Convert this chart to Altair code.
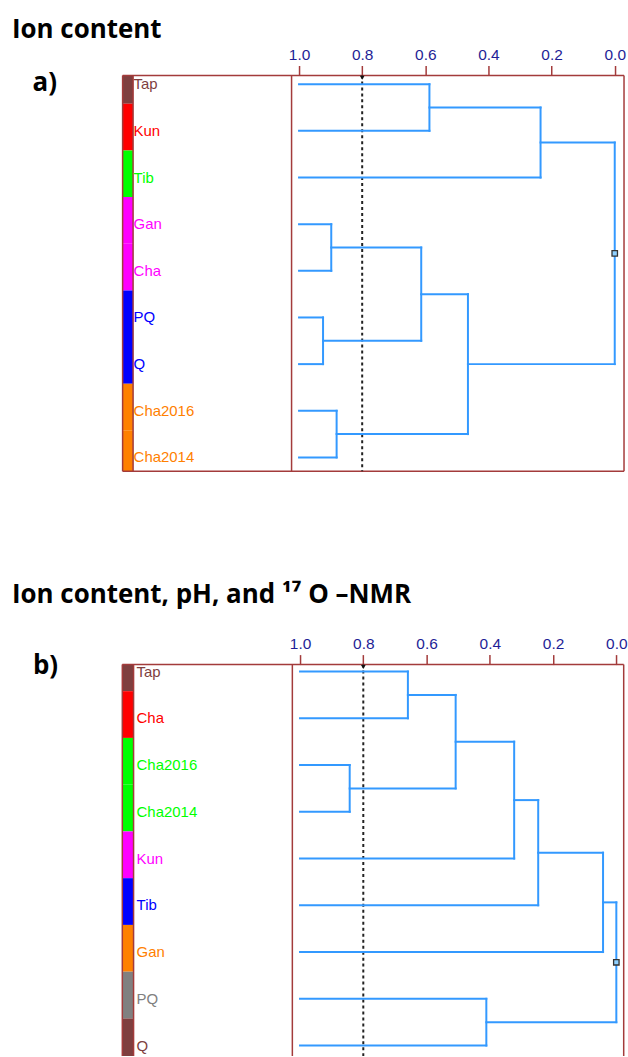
import altair as alt
import pandas as pd

# ---------------- data: panel a (Ion content) ----------------
leaves_a = ["Tap", "Kun", "Tib", "Gan", "Cha", "PQ", "Q", "Cha2016", "Cha2014"]
colors_a = ["#7f3f3f", "#ff0000", "#00ff00", "#ff00ff", "#ff00ff",
            "#0000ff", "#0000ff", "#ff8000", "#ff8000"]
# merges C1..C8 : left child, right child, similarity level
merge_left_a = ["Tap", "C1", "Gan", "PQ", "C3", "Cha2016", "C5", "C2"]
merge_right_a = ["Kun", "Tib", "Cha", "Q", "C4", "Cha2014", "C6", "C7"]
merge_level_a = [0.587, 0.235, 0.898, 0.924, 0.613, 0.881, 0.465, 0.0]

# ---------------- data: panel b (Ion content, pH, 17O-NMR) ----------------
leaves_b = ["Tap", "Cha", "Cha2016", "Cha2014", "Kun", "Tib", "Gan", "PQ", "Q"]
colors_b = ["#7f3f3f", "#ff0000", "#00ff00", "#00ff00", "#ff00ff",
            "#0000ff", "#ff8000", "#808080", "#7f3f3f"]
merge_left_b = ["Tap", "Cha2016", "C1", "C3", "C4", "C5", "PQ", "C6"]
merge_right_b = ["Cha", "Cha2014", "C2", "Kun", "Tib", "Gan", "Q", "C7"]
merge_level_b = [0.659, 0.843, 0.508, 0.323, 0.247, 0.042, 0.411, 0.0]

cut_level = 0.8
tick_values = [0.0, 0.2, 0.4, 0.6, 0.8, 1.0]

BOX = "#a33b3b"
LINE = "#3399ff"
NAVY = "#1e1e96"


def dendro(leaves, lefts, rights, levels):
    pos = {n: (float(i), 1.0) for i, n in enumerate(leaves)}
    rows = []
    for k, (l, r, h) in enumerate(zip(lefts, rights, levels), start=1):
        (y1, h1), (y2, h2) = pos[l], pos[r]
        rows.append(dict(x=h1, x2=h, y=y1, y2=y1))
        rows.append(dict(x=h2, x2=h, y=y2, y2=y2))
        rows.append(dict(x=h, x2=h, y=y1, y2=y2))
        pos[f"C{k}"] = ((y1 + y2) / 2, h)
    root = pos[f"C{len(levels)}"]
    return pd.DataFrame(rows), root


def panel(leaves, colors, lefts, rights, levels, xdom, ydom, height, fr,
          tag, tag_y, title, title_offset, bottom_line):
    X = alt.X("x:Q", scale=alt.Scale(domain=xdom, reverse=True, nice=False, zero=False),
              axis=alt.Axis(orient="top", values=tick_values, format=".1f", title=None,
                            grid=False, domain=False, tickColor=BOX, tickWidth=1.5,
                            tickSize=10, labelColor=NAVY, labelFont="Liberation Sans",
                            labelFontSize=15.5, labelPadding=3, labelFlush=False))
    Y = alt.Y("y:Q", scale=alt.Scale(domain=ydom, reverse=True, nice=False, zero=False),
              axis=None)

    n = len(leaves)
    bands = pd.DataFrame({
        "x": [fr["left"]] * n, "x2": [fr["bar"]] * n,
        "y": [max(i - 0.58, ydom[0]) for i in range(n)],
        "y2": [min(i + 0.42, ydom[1]) for i in range(n)],
        "c": colors,
    })
    band_layer = alt.Chart(bands).mark_rect().encode(
        x=X, x2="x2:Q", y=Y, y2="y2:Q", color=alt.Color("c:N", scale=None))

    frame_rows = [
        dict(x=fr["left"], x2=fr["right"], y=ydom[0], y2=ydom[0]),
        dict(x=fr["left"], x2=fr["left"], y=ydom[0], y2=ydom[1]),
        dict(x=fr["bar"], x2=fr["bar"], y=ydom[0], y2=ydom[1]),
        dict(x=fr["div"], x2=fr["div"], y=ydom[0], y2=ydom[1]),
        dict(x=fr["right"], x2=fr["right"], y=ydom[0], y2=ydom[1]),
    ]
    if bottom_line:
        frame_rows.append(dict(x=fr["left"], x2=fr["right"], y=ydom[1], y2=ydom[1]))
    frame_layer = alt.Chart(pd.DataFrame(frame_rows)).mark_rule(
        color=BOX, strokeWidth=1.5).encode(x=X, x2="x2:Q", y=Y, y2="y2:Q")

    cut = pd.DataFrame([dict(x=cut_level, x2=cut_level, y=ydom[0], y2=ydom[1])])
    cut_layer = alt.Chart(cut).mark_rule(
        color="#222222", strokeWidth=2, strokeDash=[3, 3]).encode(
        x=X, x2="x2:Q", y=Y, y2="y2:Q")
    tri = pd.DataFrame([dict(x=cut_level, y=ydom[0] + 0.05)])
    tri_layer = alt.Chart(tri).mark_point(
        shape="triangle-down", filled=True, color="#111111", size=22, opacity=1).encode(x=X, y=Y)

    segs, root = dendro(leaves, lefts, rights, levels)
    seg_layer = alt.Chart(segs).mark_rule(
        color=LINE, strokeWidth=2, strokeCap="square").encode(
        x=X, x2="x2:Q", y=Y, y2="y2:Q")
    root_df = pd.DataFrame([dict(x=root[1], y=root[0])])
    root_layer = alt.Chart(root_df).mark_point(
        shape="square", filled=True, fill="#8fd0ff", stroke="#333333",
        strokeWidth=1.3, size=30, opacity=1).encode(x=X, y=Y)

    labels = pd.DataFrame({"x": [fr["label"]] * n, "y": list(range(n)),
                           "t": leaves, "c": colors})
    label_layer = alt.Chart(labels).mark_text(
        align="left", baseline="middle", font="Liberation Sans", fontSize=15).encode(
        x=X, y=Y, text="t:N", color=alt.Color("c:N", scale=None))

    tag_df = pd.DataFrame([dict(x=fr["tag"], y=tag_y, t=tag)])
    tag_layer = alt.Chart(tag_df).mark_text(
        align="left", baseline="alphabetic", font="Open Sans", fontWeight="bold",
        fontSize=26, color="black").encode(x=X, y=Y, text="t:N")

    return alt.layer(band_layer, frame_layer, cut_layer, seg_layer, tri_layer,
                     root_layer, label_layer, tag_layer).properties(
        width=628, height=height,
        title=alt.TitleParams(title, anchor="start", frame="group", dx=12,
                              font="Open Sans", fontSize=26, fontWeight="bold",
                              color="black", offset=title_offset))


frame_a = dict(left=1.5589, bar=1.5257, div=1.0237, right=-0.0294, label=1.5241, tag=1.8440)
frame_b = dict(left=1.5619, bar=1.5263, div=1.0243, right=-0.0233, label=1.5168, tag=1.8446)

pa = panel(leaves_a, colors_a, merge_left_a, merge_right_a, merge_level_a,
           xdom=[-0.0357, 1.9473], ydom=[-0.188, 8.295], height=397, fr=frame_a,
           tag="a)", tag_y=0.14, title="Ion content", title_offset=5, bottom_line=True)
pb = panel(leaves_b, colors_b, merge_left_b, merge_right_b, merge_level_b,
           xdom=[-0.0306, 1.9486], ydom=[-0.149, 8.224], height=392.7, fr=frame_b,
           tag="b)", tag_y=0.06, title="Ion content, pH, and \u00b9\u2077 O \u2013NMR",
           title_offset=29, bottom_line=False)

chart = alt.vconcat(pa, pb, spacing=110).properties(
    padding={"left": 0, "right": 0, "top": 15, "bottom": 0}
).configure_view(stroke=None)

chart.save("out.html", embed_options={"renderer": "svg", "actions": False})
